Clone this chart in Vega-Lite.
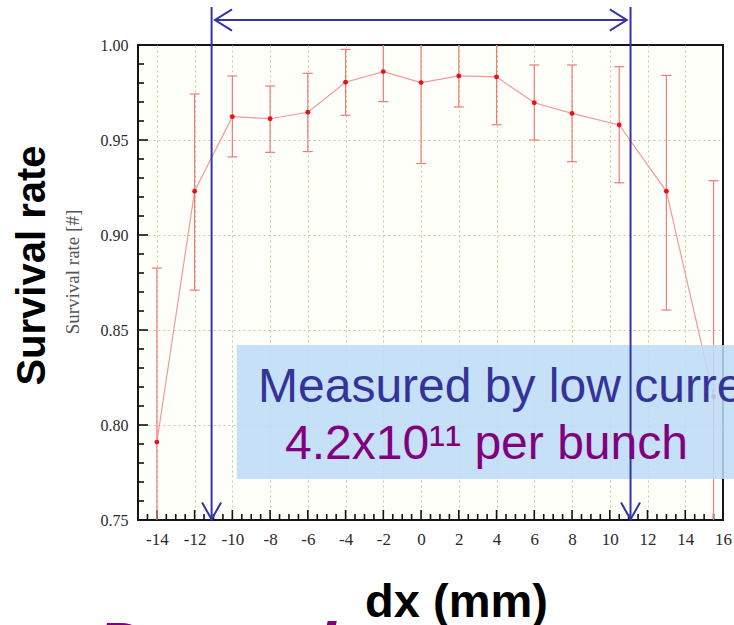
{
  "$schema": "https://vega.github.io/schema/vega-lite/v6.json",
  "width": 585,
  "height": 475,
  "autosize": {"type": "none"},
  "padding": {"left": 138, "top": 45, "right": 11, "bottom": 105},
  "background": "#ffffff",
  "config": {
    "view": {"stroke": "#151515", "strokeWidth": 2, "fill": "#fffff9"},
    "axis": {
      "domain": false,
      "ticks": false,
      "labelFont": "Liberation Serif",
      "labelColor": "#2a2a2a",
      "labelFlush": false,
      "labelOverlap": false,
      "labelBound": false,
      "gridColor": "#c9c69c",
      "gridDash": [2, 3],
      "gridWidth": 1
    }
  },
  "resolve": {"axis": {"x": "independent", "y": "independent"}},
  "datasets": {
    "survival": [
      {"dx": -14, "rate": 0.791, "lo": 0.70, "hi": 0.8826},
      {"dx": -12, "rate": 0.923, "lo": 0.871, "hi": 0.9742},
      {"dx": -10, "rate": 0.9623, "lo": 0.9411, "hi": 0.9837},
      {"dx": -8, "rate": 0.9612, "lo": 0.9435, "hi": 0.9784},
      {"dx": -6, "rate": 0.9646, "lo": 0.9439, "hi": 0.9851},
      {"dx": -4, "rate": 0.9804, "lo": 0.963, "hi": 0.9977},
      {"dx": -2, "rate": 0.986, "lo": 0.9702, "hi": 1.004},
      {"dx": 0, "rate": 0.9802, "lo": 0.9376, "hi": 1.004},
      {"dx": 2, "rate": 0.9837, "lo": 0.9674, "hi": 1.004},
      {"dx": 4, "rate": 0.9832, "lo": 0.958, "hi": 1.004},
      {"dx": 6, "rate": 0.9696, "lo": 0.950, "hi": 0.9895},
      {"dx": 8, "rate": 0.964, "lo": 0.9386, "hi": 0.9895},
      {"dx": 10.5, "rate": 0.9579, "lo": 0.9275, "hi": 0.9886},
      {"dx": 13, "rate": 0.923, "lo": 0.8605, "hi": 0.984},
      {"dx": 15.5, "rate": 0.8149, "lo": 0.70, "hi": 0.9286}
    ],
    "edges": [
      {"side": "left", "dx": -11.1},
      {"side": "right", "dx": 11.1}
    ],
    "xMinorTicks": [
      {"v": -14.5}, {"v": -13.5}, {"v": -13}, {"v": -12.5}, {"v": -11.5},
      {"v": -11}, {"v": -10.5}, {"v": -9.5}, {"v": -9}, {"v": -8.5}, {"v": -7.5},
      {"v": -7}, {"v": -6.5}, {"v": -5.5}, {"v": -5}, {"v": -4.5}, {"v": -3.5},
      {"v": -3}, {"v": -2.5}, {"v": -1.5}, {"v": -1}, {"v": -0.5}, {"v": 0.5},
      {"v": 1}, {"v": 1.5}, {"v": 2.5}, {"v": 3}, {"v": 3.5}, {"v": 4.5},
      {"v": 5}, {"v": 5.5}, {"v": 6.5}, {"v": 7}, {"v": 7.5}, {"v": 8.5},
      {"v": 9}, {"v": 9.5}, {"v": 10.5}, {"v": 11}, {"v": 11.5}, {"v": 12.5},
      {"v": 13}, {"v": 13.5}, {"v": 14.5}, {"v": 15}, {"v": 15.5}
    ],
    "xMajorTicks": [
      {"v": -14}, {"v": -12}, {"v": -10}, {"v": -8}, {"v": -6}, {"v": -4}, {"v": -2}, {"v": 0},
      {"v": 2}, {"v": 4}, {"v": 6}, {"v": 8}, {"v": 10}, {"v": 12}, {"v": 14}
    ],
    "yMinorTicks": [
      {"v": 0.76}, {"v": 0.77}, {"v": 0.78}, {"v": 0.79}, {"v": 0.81}, {"v": 0.82}, {"v": 0.83}, {"v": 0.84},
      {"v": 0.86}, {"v": 0.87}, {"v": 0.88}, {"v": 0.89}, {"v": 0.91}, {"v": 0.92}, {"v": 0.93}, {"v": 0.94},
      {"v": 0.96}, {"v": 0.97}, {"v": 0.98}, {"v": 0.99}
    ],
    "yMajorTicks": [
      {"v": 0.8}, {"v": 0.85}, {"v": 0.9}, {"v": 0.95}
    ],
    "one": [{}]
  },
  "layer": [
    {
      "data": {"name": "survival"},
      "mark": {"type": "line", "color": "#f29a9a", "strokeWidth": 1.2},
      "encoding": {
        "x": {
          "field": "dx",
          "type": "quantitative",
          "scale": {"domain": [-15, 16], "nice": false, "zero": false},
          "axis": {
            "orient": "bottom",
            "values": [-14, -12, -10, -8, -6, -4, -2, 0, 2, 4, 6, 8, 10, 12, 14, 16],
            "labelExpr": "'' + datum.value",
            "labelFontSize": 17,
            "labelPadding": 11,
            "grid": true,
            "gridOpacity": {"condition": {"test": "datum.value < 15", "value": 1}, "value": 0},
            "title": "dx (mm)",
            "titleFont": "Liberation Sans",
            "titleFontWeight": "bold",
            "titleFontSize": 47,
            "titleColor": "#000000",
            "titleX": 318,
            "titleY": 96,
            "titleAlign": "center",
            "titleBaseline": "alphabetic"
          }
        },
        "y": {
          "field": "rate",
          "type": "quantitative",
          "scale": {"domain": [0.75, 1.0], "nice": false, "zero": false},
          "axis": {
            "orient": "left",
            "values": [0.75, 0.8, 0.85, 0.9, 0.95, 1.0],
            "format": ".2f",
            "labelFontSize": 16,
            "labelPadding": 10,
            "grid": true,
            "gridOpacity": {"condition": {"test": "datum.value > 0.76 && datum.value < 0.99", "value": 1}, "value": 0},
            "title": "Survival rate",
            "titleFont": "Liberation Sans",
            "titleFontWeight": "bold",
            "titleFontSize": 40,
            "titleColor": "#000000",
            "titleAngle": 270,
            "titleX": -106,
            "titleY": 220,
            "titleAlign": "center",
            "titleBaseline": "middle"
          }
        }
      }
    },
    {
      "data": {"name": "xMinorTicks"},
      "mark": {"type": "rule", "color": "#111111", "strokeWidth": 1.6},
      "encoding": {
        "x": {"field": "v", "type": "quantitative", "axis": null},
        "y": {"datum": 0.75, "type": "quantitative", "axis": null},
        "y2": {"datum": 0.75316}
      }
    },
    {
      "data": {"name": "xMajorTicks"},
      "mark": {"type": "rule", "color": "#111111", "strokeWidth": 1.6},
      "encoding": {
        "x": {"field": "v", "type": "quantitative", "axis": null},
        "y": {"datum": 0.75, "type": "quantitative", "axis": null},
        "y2": {"datum": 0.75526}
      }
    },
    {
      "data": {"name": "yMinorTicks"},
      "mark": {"type": "rule", "color": "#111111", "strokeWidth": 1.6},
      "encoding": {
        "y": {"field": "v", "type": "quantitative", "axis": null},
        "x": {"datum": -15, "type": "quantitative", "axis": null},
        "x2": {"datum": -14.682}
      }
    },
    {
      "data": {"name": "yMajorTicks"},
      "mark": {"type": "rule", "color": "#111111", "strokeWidth": 1.6},
      "encoding": {
        "y": {"field": "v", "type": "quantitative", "axis": null},
        "x": {"datum": -15, "type": "quantitative", "axis": null},
        "x2": {"datum": -14.47}
      }
    },
    {
      "data": {"name": "survival"},
      "mark": {"type": "rule", "color": "#f07a7a", "strokeWidth": 1.2, "clip": true},
      "encoding": {
        "x": {"field": "dx", "type": "quantitative", "axis": null},
        "y": {"field": "lo", "type": "quantitative", "axis": null},
        "y2": {"field": "hi"}
      }
    },
    {
      "data": {"name": "survival"},
      "mark": {"type": "point", "shape": "stroke", "size": 100, "strokeWidth": 1.2, "color": "#f07a7a", "opacity": 1, "clip": true},
      "encoding": {
        "x": {"field": "dx", "type": "quantitative", "axis": null},
        "y": {"field": "lo", "type": "quantitative", "axis": null}
      }
    },
    {
      "data": {"name": "survival"},
      "mark": {"type": "point", "shape": "stroke", "size": 100, "strokeWidth": 1.2, "color": "#f07a7a", "opacity": 1, "clip": true},
      "encoding": {
        "x": {"field": "dx", "type": "quantitative", "axis": null},
        "y": {"field": "hi", "type": "quantitative", "axis": null}
      }
    },
    {
      "data": {"name": "survival"},
      "mark": {"type": "point", "filled": true, "size": 24, "color": "#e3141c", "opacity": 1},
      "encoding": {
        "x": {"field": "dx", "type": "quantitative", "axis": null},
        "y": {"field": "rate", "type": "quantitative", "axis": null}
      }
    },
    {
      "data": {"name": "one"},
      "mark": {"type": "rect", "color": "#bcdcf7", "opacity": 0.85},
      "encoding": {
        "x": {"datum": -9.77, "type": "quantitative", "axis": null},
        "x2": {"datum": 17},
        "y": {"datum": 0.8421, "type": "quantitative", "axis": null},
        "y2": {"datum": 0.7716}
      }
    },
    {
      "data": {"name": "edges"},
      "mark": {"type": "rule", "color": "#3434a8", "strokeWidth": 2},
      "encoding": {
        "x": {"field": "dx", "type": "quantitative", "axis": null},
        "y": {"datum": 1.02, "type": "quantitative", "axis": null},
        "y2": {"datum": 0.75}
      }
    },
    {
      "data": {"name": "edges"},
      "mark": {"type": "point", "shape": "M -0.56 -1 L 0 0 L 0.56 -1", "size": 1156, "strokeWidth": 2, "color": "#3434a8", "filled": false, "opacity": 1},
      "encoding": {
        "x": {"field": "dx", "type": "quantitative", "axis": null},
        "y": {"datum": 0.7503, "type": "quantitative", "axis": null}
      }
    },
    {
      "data": {"name": "one"},
      "mark": {"type": "rule", "color": "#3434a8", "strokeWidth": 2},
      "encoding": {
        "x": {"datum": -10.92, "type": "quantitative", "axis": null},
        "x2": {"datum": 10.9},
        "y": {"datum": 1.01316, "type": "quantitative", "axis": null}
      }
    },
    {
      "data": {"name": "one"},
      "mark": {"type": "point", "shape": "M 1 -0.62 L 0 0 L 1 0.62", "size": 1156, "strokeWidth": 2, "color": "#3434a8", "filled": false, "opacity": 1},
      "encoding": {
        "x": {"datum": -10.92, "type": "quantitative", "axis": null},
        "y": {"datum": 1.01316, "type": "quantitative", "axis": null}
      }
    },
    {
      "data": {"name": "one"},
      "mark": {"type": "point", "shape": "M -1 -0.62 L 0 0 L -1 0.62", "size": 1156, "strokeWidth": 2, "color": "#3434a8", "filled": false, "opacity": 1},
      "encoding": {
        "x": {"datum": 10.9, "type": "quantitative", "axis": null},
        "y": {"datum": 1.01316, "type": "quantitative", "axis": null}
      }
    },
    {
      "data": {"name": "one"},
      "mark": {"type": "text", "text": "Measured by low current", "font": "Liberation Sans", "fontSize": 48, "color": "#333399", "align": "left", "baseline": "alphabetic"},
      "encoding": {
        "x": {"datum": -8.64, "type": "quantitative", "axis": null},
        "y": {"datum": 0.81226, "type": "quantitative", "axis": null}
      }
    },
    {
      "data": {"name": "one"},
      "mark": {"type": "text", "text": "4.2x10¹¹ per bunch", "font": "Liberation Sans", "fontSize": 48, "color": "#800080", "align": "left", "baseline": "alphabetic"},
      "encoding": {
        "x": {"datum": -7.21, "type": "quantitative", "axis": null},
        "y": {"datum": 0.78211, "type": "quantitative", "axis": null}
      }
    },
    {
      "data": {"name": "one"},
      "mark": {"type": "text", "text": "Survival rate [#]", "font": "Liberation Serif", "fontSize": 19, "color": "#555555", "angle": 270, "align": "center", "baseline": "middle"},
      "encoding": {
        "x": {"datum": -18.42, "type": "quantitative", "axis": null},
        "y": {"datum": 0.8805, "type": "quantitative", "axis": null}
      }
    },
    {
      "data": {"name": "one"},
      "mark": {"type": "text", "text": "Dynamic aperture", "font": "Liberation Sans", "fontSize": 66, "fontWeight": "bold", "fontStyle": "italic", "color": "#800080", "align": "left", "baseline": "alphabetic"},
      "encoding": {
        "x": {"datum": -17.17, "type": "quantitative", "axis": null},
        "y": {"datum": 0.67158, "type": "quantitative", "axis": null}
      }
    }
  ]
}
